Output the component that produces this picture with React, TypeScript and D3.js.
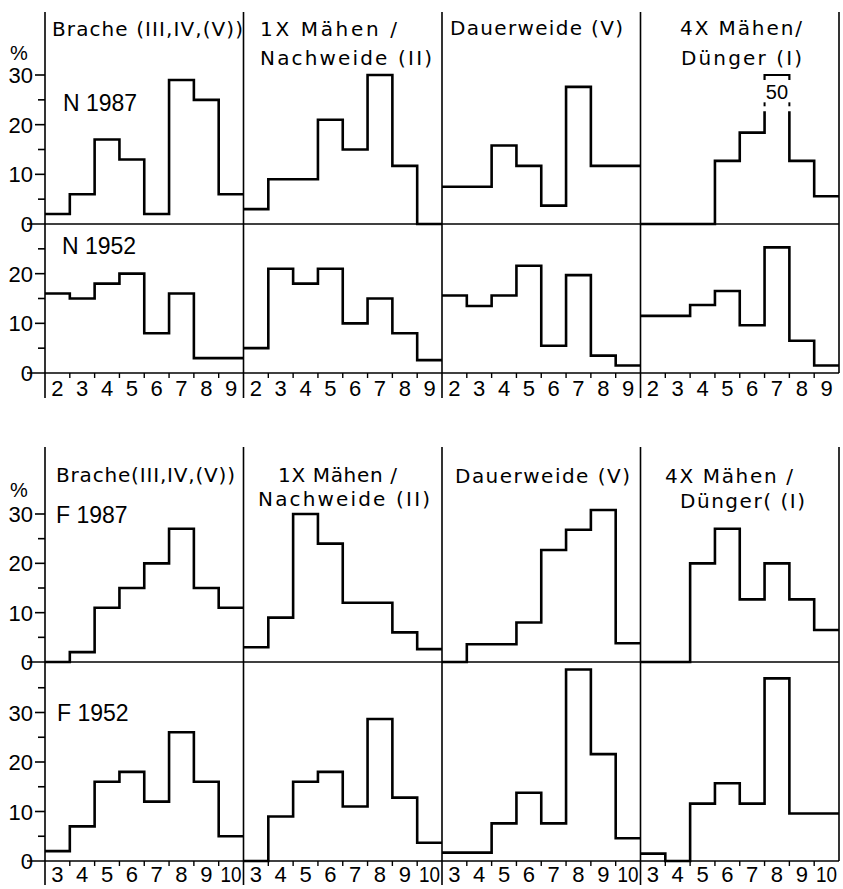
import React from "react";
import * as d3 from "d3";

// ---------- data ----------
const nBins = ["2", "3", "4", "5", "6", "7", "8", "9"];
const fBins = ["3", "4", "5", "6", "7", "8", "9", "10"];

const nTitles = [["Brache (III,IV,(V))"], ["1X Mähen /", "Nachweide (II)"], ["Dauerweide (V)"], ["4X Mähen/", "Dünger (I)"]];
const fTitles = [["Brache(III,IV,(V))"], ["1X Mähen /", "Nachweide (II)"], ["Dauerweide (V)"], ["4X Mähen /", "Dünger( (I)"]];

const rowLabels = ["N 1987", "N 1952", "F 1987", "F 1952"];

const n1987Brache = [2, 6, 17, 13, 2, 29, 25, 6];
const n1987Maehen1 = [3, 9, 9, 21, 15, 30, 11.7, 0];
const n1987Dauer = [7.5, 7.5, 15.8, 11.7, 3.7, 27.6, 11.7, 11.7];
const n1987Maehen4 = [0, 0, 0, 12.7, 18.4, 50, 12.7, 5.6];

const n1952Brache = [16, 15, 18, 20, 8, 16, 3, 3];
const n1952Maehen1 = [5, 21, 18, 21, 10, 15, 8, 2.6];
const n1952Dauer = [15.6, 13.5, 15.6, 21.6, 5.5, 19.7, 3.5, 1.5];
const n1952Maehen4 = [11.5, 11.5, 13.7, 16.5, 9.6, 25.3, 6.5, 1.5];

const f1987Brache = [0, 2, 11, 15, 20, 27, 15, 11];
const f1987Maehen1 = [3, 9, 30, 24, 12, 12, 6, 2.6];
const f1987Dauer = [0, 3.6, 3.6, 8, 22.7, 26.8, 30.8, 3.8];
const f1987Maehen4 = [0, 0, 20, 27, 12.7, 20, 12.7, 6.5];

const f1952Brache = [2, 7, 16, 18, 12, 26, 16, 5];
const f1952Maehen1 = [0, 9, 16, 18, 11, 28.7, 12.8, 3.7];
const f1952Dauer = [1.7, 1.7, 7.6, 13.8, 7.6, 38.7, 21.6, 4.6];
const f1952Maehen4 = [1.5, 0, 11.6, 15.7, 11.6, 36.9, 9.6, 9.6];

const yTickLabelsTop = [0, 10, 20, 30];
const yTickLabelsN1952 = [0, 10, 20];
const yTickLabelsF1952 = [0, 10, 20, 30];

// ---------- layout ----------
const FONT = "'Liberation Sans', Arial, sans-serif";
const TFONT = "'DejaVu Sans', sans-serif";
const X0 = 45;
const X1 = 839;
const x = d3.scaleLinear().domain([0, 32]).range([X0, X1]);

type Row = {
  values: number[][];
  y: d3.ScaleLinear<number, number>;
  labels: number[];
  minor: number[];
  rowLabel: string;
  rowLabelPos: [number, number];
  breakAbove: number;
};

const rows: Row[] = [
  { values: [n1987Brache, n1987Maehen1, n1987Dauer, n1987Maehen4], y: d3.scaleLinear().domain([0, 30]).range([224, 75]), labels: yTickLabelsTop, minor: [5, 15, 25], rowLabel: rowLabels[0], rowLabelPos: [63, 111], breakAbove: 40 },
  { values: [n1952Brache, n1952Maehen1, n1952Dauer, n1952Maehen4], y: d3.scaleLinear().domain([0, 30]).range([373, 224]), labels: yTickLabelsN1952, minor: [5, 15, 25], rowLabel: rowLabels[1], rowLabelPos: [62, 254], breakAbove: Infinity },
  { values: [f1987Brache, f1987Maehen1, f1987Dauer, f1987Maehen4], y: d3.scaleLinear().domain([0, 30]).range([662, 514]), labels: yTickLabelsTop, minor: [5, 15, 25], rowLabel: rowLabels[2], rowLabelPos: [56, 523], breakAbove: Infinity },
  { values: [f1952Brache, f1952Maehen1, f1952Dauer, f1952Maehen4], y: d3.scaleLinear().domain([0, 30]).range([861, 712.5]), labels: yTickLabelsF1952, minor: [5, 15, 25, 35], rowLabel: rowLabels[3], rowLabelPos: [57, 721], breakAbove: Infinity },
];

const blocks = [
  { top: 12, bottom: 398, bins: nBins, binLabelY: 396, axisRow: 1, titles: nTitles, percentY: 60,
    titlePos: [[[52, 36, 191]], [[260, 36, 137], [260, 65, 172]], [[450, 35, 173]], [[680, 35, 122], [681, 65, 121]]] },
  { top: 447, bottom: 885, bins: fBins, binLabelY: 882, axisRow: 3, titles: fTitles, percentY: 497,
    titlePos: [[[56, 482, 179]], [[278, 482, 119], [258, 506, 172]], [[455, 483, 175]], [[665, 483, 128], [680, 508, 125]]] },
];

const line = d3.line<[number, number]>().curve(d3.curveStepAfter);

function StepSeries({ values, y, panel, breakAbove }: { values: number[]; y: d3.ScaleLinear<number, number>; panel: number; breakAbove: number }) {
  const base = panel * 8;
  const gen = line.x((d) => x(d[0])).y((d) => y(d[1]));
  const k = values.findIndex((v) => v > breakAbove);
  const sw = 2.6;
  if (k < 0) {
    const pts: [number, number][] = values.map((v, i) => [base + i, v]);
    pts.push([base + 8, values[7]]);
    return <path d={gen(pts) || ""} fill="none" stroke="#000" strokeWidth={sw} />;
  }
  const solidTop = 22.7;
  const left: [number, number][] = values.slice(0, k).map((v, i) => [base + i, v]);
  left.push([base + k, solidTop]);
  const right: [number, number][] = [[base + k + 1, solidTop]];
  values.slice(k + 1).forEach((v, j) => right.push([base + k + 1 + j, v]));
  right.push([base + 8, values[7]]);
  const xl = x(base + k);
  const xr = x(base + k + 1);
  return (
    <g>
      <path d={gen(left) || ""} fill="none" stroke="#000" strokeWidth={sw} />
      <path d={gen(right) || ""} fill="none" stroke="#000" strokeWidth={sw} />
      {[xl, xr].map((xx, i) => (
        <line key={i} x1={xx} x2={xx} y1={y(23.7)} y2={y(24.5)} stroke="#000" strokeWidth={2} />
      ))}
      <path d={`M${xl},${y(29)}V${y(30)}H${xr}V${y(29)}`} fill="none" stroke="#000" strokeWidth={2.2} />
      <text x={(xl + xr) / 2} y={y(25.2)} textAnchor="middle" fontSize={20} fontFamily={FONT}>
        {values[k]}
      </text>
    </g>
  );
}

export default function App() {
  const axisW = 1.6;
  return (
    <svg width={843} height={889} style={{ display: "block", position: "absolute", left: 0, top: 0, background: "#fff" }}>
      <rect width={843} height={889} fill="#fff" />
      {blocks.map((b, bi) => {
        const axisY = rows[b.axisRow].y;
        return (
          <g key={bi}>
            {[0, 8, 16, 24, 32].map((d) => (
              <line key={d} x1={x(d)} x2={x(d)} y1={b.top} y2={d === 32 ? axisY(0) : b.bottom} stroke="#000" strokeWidth={axisW} />
            ))}
            {[0, 1, 2, 3].map((p) => (
              <g key={p}>
                {d3.range(1, 8).map((i) => (
                  <line key={i} x1={x(p * 8 + i)} x2={x(p * 8 + i)} y1={axisY(0)} y2={axisY(0) + 5} stroke="#000" strokeWidth={1.4} />
                ))}
                {b.bins.map((lab, i) => (
                  <text key={i} x={x(p * 8 + i + 0.5)} y={b.binLabelY} textAnchor="middle" fontSize={22} fontFamily={FONT}
                    {...(lab.length > 1 ? { textLength: 21, lengthAdjust: "spacingAndGlyphs" } : {})}>
                    {lab}
                  </text>
                ))}
              </g>
            ))}
            {b.titles.map((lines, p) =>
              lines.map((t, li) => {
                const [tx, ty, tw] = b.titlePos[p][li];
                return (
                  <text key={`${p}-${li}`} x={tx} y={ty} fontSize={20} fontFamily={TFONT} textLength={tw} lengthAdjust="spacing">
                    {t}
                  </text>
                );
              })
            )}
            <text x={10} y={b.percentY} fontSize={20} fontFamily={FONT}>%</text>
          </g>
        );
      })}
      {rows.map((r, ri) => (
        <g key={ri}>
          <line x1={27} x2={X1} y1={r.y(0)} y2={r.y(0)} stroke="#000" strokeWidth={axisW} />
          {r.labels.filter((v) => v > 0).map((v) => (
            <line key={v} x1={X0 - 10} x2={X0} y1={r.y(v)} y2={r.y(v)} stroke="#000" strokeWidth={axisW} />
          ))}
          {r.minor.map((v) => (
            <line key={v} x1={X0 - 7} x2={X0} y1={r.y(v)} y2={r.y(v)} stroke="#000" strokeWidth={axisW} />
          ))}
          {r.labels.map((v) => (
            <text key={v} x={33} y={r.y(v) + 8} textAnchor="end" fontSize={22} fontFamily={FONT}>
              {v}
            </text>
          ))}
          <text x={r.rowLabelPos[0]} y={r.rowLabelPos[1]} fontSize={23} fontFamily={FONT}>
            {r.rowLabel}
          </text>
          {r.values.map((vals, p) => (
            <StepSeries key={p} values={vals} y={r.y} panel={p} breakAbove={r.breakAbove} />
          ))}
        </g>
      ))}
    </svg>
  );
}
